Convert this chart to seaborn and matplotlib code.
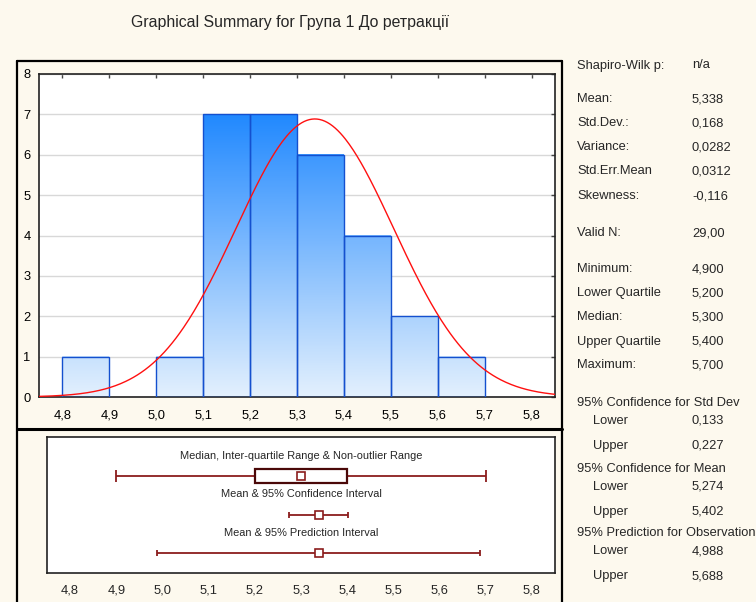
import numpy as np
import matplotlib
matplotlib.use("Agg")
import matplotlib.pyplot as plt
from matplotlib.colors import LinearSegmentedColormap
from matplotlib.lines import Line2D
import seaborn as sns

sns.set_style("white")
plt.rcParams["font.family"] = ["Liberation Sans", "DejaVu Sans"]

# ---- data ---------------------------------------------------------------
bin_edges = [4.8, 4.9, 5.0, 5.1, 5.2, 5.3, 5.4, 5.5, 5.6, 5.7]
bin_counts = [1, 0, 1, 7, 7, 6, 4, 2, 1]
x_ticks = [4.8, 4.9, 5.0, 5.1, 5.2, 5.3, 5.4, 5.5, 5.6, 5.7, 5.8]
x_tick_labels = ["4,8", "4,9", "5,0", "5,1", "5,2", "5,3", "5,4", "5,5", "5,6", "5,7", "5,8"]
y_ticks = [0, 1, 2, 3, 4, 5, 6, 7, 8]

n_valid = 29
mean, std_dev = 5.338, 0.168
minimum, q1, median, q3, maximum = 4.900, 5.200, 5.300, 5.400, 5.700
ci_mean = (5.274, 5.402)
pred_obs = (4.988, 5.688)

stats_labels = ["Shapiro-Wilk p:", "Mean:", "Std.Dev.:", "Variance:", "Std.Err.Mean",
                "Skewness:", "Valid N:", "Minimum:", "Lower Quartile", "Median:",
                "Upper Quartile", "Maximum:"]
stats_values = ["n/a", "5,338", "0,168", "0,0282", "0,0312", "-0,116", "29,00",
                "4,900", "5,200", "5,300", "5,400", "5,700"]
interval_headers = ["95% Confidence for Std Dev", "95% Confidence for Mean",
                    "95% Prediction for Observation"]
interval_values = [("0,133", "0,227"), ("5,274", "5,402"), ("4,988", "5,688")]

title = "Graphical Summary for Група 1 До ретракції"

# ---- figure -------------------------------------------------------------
W, H = 756, 602
bg = "#FDF9EE"
fig = plt.figure(figsize=(W / 100, H / 100), dpi=100, facecolor=bg)


def fx(px):
    return px / W


def fy(py):
    return 1 - py / H


FS = 9.3
XLIM = (4.75, 5.85)


def row_text(px, py, s, **kw):
    # py is the visual middle of the row; text sits on a common baseline
    fig.text(fx(px), fy(py + 4.5), s, ha="left", va="baseline", fontsize=FS, **kw)


# histogram panel
ax = fig.add_axes([fx(39), fy(397), fx(555 - 39), (397 - 74) / H])
ax.set_facecolor("white")
sns.histplot(x=[(a + b) / 2 for a, b in zip(bin_edges[:-1], bin_edges[1:])],
             weights=bin_counts, bins=bin_edges, ax=ax, stat="count",
             color="#1E88FF", edgecolor="#1450CF", linewidth=1.0, alpha=1)

# vertical blue gradient inside each bar
grad_cmap = LinearSegmentedColormap.from_list("bluegrad", ["#E3F0FD", "#1C86FF"])
for p in list(ax.patches):
    h = p.get_height()
    if h <= 0:
        p.set_visible(False)
        continue
    x0 = p.get_x()
    x1 = x0 + p.get_width()
    vals = np.linspace(0, h, 200).reshape(-1, 1)
    ax.imshow(vals, extent=[x0, x1, 0, h], origin="lower", cmap=grad_cmap,
              vmin=0, vmax=7.2, aspect="auto", zorder=2, interpolation="bilinear")
    p.set_facecolor("none")
    p.set_zorder(3)

# fitted normal curve
xs = np.linspace(XLIM[0], XLIM[1], 400)
bw = bin_edges[1] - bin_edges[0]
pdf = np.exp(-0.5 * ((xs - mean) / std_dev) ** 2) / (std_dev * np.sqrt(2 * np.pi))
sns.lineplot(x=xs, y=pdf * n_valid * bw, ax=ax, color="#FF1010", linewidth=1.0,
             zorder=4)

ax.set_xlim(*XLIM)
ax.set_ylim(0, 8)
ax.set_yticks(y_ticks)
ax.set_yticklabels([str(v) for v in y_ticks], fontsize=FS)
ax.set_xticks(x_ticks)
ax.set_xticklabels(x_tick_labels, fontsize=FS)
ax.set_xlabel("")
ax.set_ylabel("")
ax.grid(axis="y", color="#D8D8D8", linewidth=1.0, zorder=0)
ax.set_axisbelow(True)
ax.tick_params(axis="both", direction="in", length=3, width=1, color="#444444",
               top=True, right=True, labelcolor="black")
ax.tick_params(axis="x", pad=9)
ax.tick_params(axis="y", pad=6)
for s in ax.spines.values():
    s.set_color("#222222")
    s.set_linewidth(1.2)
    s.set_visible(True)

# interval panel
bx = fig.add_axes([fx(47), fy(573), fx(555 - 47), (573 - 437) / H])
bx.set_facecolor("white")
bx.set_xlim(*XLIM)
bx.set_ylim(0, 1)
bx.set_yticks([])
bx.set_xticks(x_ticks)
bx.set_xticklabels(x_tick_labels, fontsize=FS)
bx.tick_params(axis="x", length=0, pad=8)
for s in bx.spines.values():
    s.set_color("#222222")
    s.set_linewidth(1.2)
    s.set_visible(True)

wcol = "#8B1C1C"
bcol = "#4A0808"
cap = 0.045
xc = sum(XLIM) / 2
PFS = 7.9

# median / IQR / range
r1 = 0.713
bx.text(xc, 0.86, "Median, Inter-quartile Range & Non-outlier Range",
        ha="center", va="center", fontsize=PFS)
bx.hlines(r1, minimum, q1, color=wcol, lw=1.3)
bx.hlines(r1, q3, maximum, color=wcol, lw=1.3)
bx.vlines([minimum, maximum], r1 - cap, r1 + cap, color=wcol, lw=1.3)
bx.add_patch(plt.Rectangle((q1, r1 - 0.054), q3 - q1, 0.108, facecolor="white",
                           edgecolor=bcol, lw=1.6, zorder=3))
bx.plot([median], [r1], marker="s", ms=6, mfc="white", mec=wcol, mew=1.2, zorder=4)

# mean & confidence interval
r2 = 0.426
bx.text(xc, 0.58, "Mean & 95% Confidence Interval", ha="center", va="center",
        fontsize=PFS)
bx.hlines(r2, ci_mean[0], ci_mean[1], color=wcol, lw=1.3)
bx.vlines(list(ci_mean), r2 - 0.025, r2 + 0.025, color=wcol, lw=1.3)
bx.plot([mean], [r2], marker="s", ms=6, mfc="white", mec=wcol, mew=1.2, zorder=4)

# mean & prediction interval
r3 = 0.147
bx.text(xc, 0.294, "Mean & 95% Prediction Interval", ha="center", va="center",
        fontsize=PFS)
bx.hlines(r3, pred_obs[0], pred_obs[1], color=wcol, lw=1.3)
bx.vlines(list(pred_obs), r3 - 0.025, r3 + 0.025, color=wcol, lw=1.3)
bx.plot([mean], [r3], marker="s", ms=6, mfc="white", mec=wcol, mew=1.2, zorder=4)

# outer frame around the two panels
frame_kw = dict(color="black", linewidth=1.6, transform=fig.transFigure)
fig.add_artist(Line2D([fx(17), fx(562)], [fy(61), fy(61)], **frame_kw))
fig.add_artist(Line2D([fx(17), fx(17)], [fy(61), fy(610)], **frame_kw))
fig.add_artist(Line2D([fx(562), fx(562)], [fy(61), fy(610)], **frame_kw))
fig.add_artist(Line2D([fx(17), fx(562)], [fy(429), fy(429)], linewidth=2.2,
                      color="black", transform=fig.transFigure))

# title
fig.text(fx(290), fy(27), title, ha="center", va="baseline", fontsize=11.4)

# summary statistics column
stat_rows = [64, 98, 122, 146, 170, 195, 232, 268, 292, 316, 340, 364]
for lab, val, py in zip(stats_labels, stats_values, stat_rows):
    row_text(577, py, lab)
    row_text(692, py, val)

header_rows = [401, 467, 532]
for hdr, (lo, hi), py in zip(interval_headers, interval_values, header_rows):
    row_text(577, py, hdr)
    row_text(593, py + 18, "Lower")
    row_text(692, py + 18, lo)
    row_text(593, py + 43, "Upper")
    row_text(692, py + 43, hi)

fig.savefig("out.png", dpi=100, facecolor=bg)
